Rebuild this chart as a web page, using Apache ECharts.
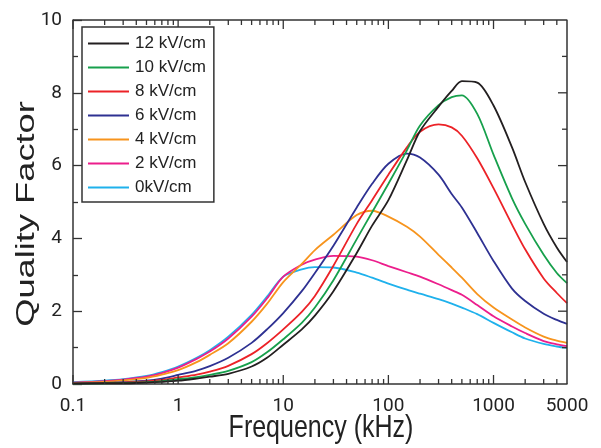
<!DOCTYPE html>
<html>
<head>
<meta charset="utf-8">
<script src="https://cdn.jsdelivr.net/npm/echarts@6/dist/echarts.min.js"></script>
<style>
  html, body { margin: 0; padding: 0; background: #fff; }
  #chart { width: 601px; height: 448px; }
</style>
</head>
<body>
<div id="chart"></div>
<script>
// frequency samples (kHz)
var freqKHz = [0.1, 0.2, 0.3, 0.5, 0.7, 1, 1.5, 2, 3, 5, 7, 10, 15, 20, 30, 50, 70, 100, 150, 200, 300, 400, 500, 700, 1000, 1500, 2000, 3000, 4000, 5000];

// quality factor per field strength
var q12 = [0.01, 0.02, 0.02, 0.04, 0.06, 0.09, 0.15, 0.2, 0.28, 0.48, 0.72, 1.08, 1.5, 1.88, 2.55, 3.6, 4.35, 5.05, 6.15, 6.95, 7.62, 8.05, 8.32, 8.28, 7.65, 6.5, 5.55, 4.4, 3.75, 3.35];
var q10 = [0.01, 0.02, 0.03, 0.05, 0.08, 0.13, 0.19, 0.25, 0.36, 0.6, 0.87, 1.23, 1.68, 2.1, 2.85, 3.98, 4.72, 5.5, 6.42, 7.1, 7.66, 7.88, 7.93, 7.42, 6.3, 5.1, 4.4, 3.55, 3.05, 2.77];
var q8  = [0.02, 0.03, 0.04, 0.07, 0.11, 0.18, 0.26, 0.34, 0.5, 0.82, 1.12, 1.5, 1.98, 2.42, 3.25, 4.4, 5.05, 5.75, 6.5, 6.93, 7.13, 7.05, 6.82, 6.2, 5.38, 4.38, 3.7, 2.9, 2.5, 2.22];
var q6  = [0.02, 0.03, 0.05, 0.09, 0.15, 0.25, 0.37, 0.49, 0.72, 1.13, 1.5, 1.95, 2.55, 3.05, 3.8, 4.85, 5.5, 6.05, 6.33, 6.22, 5.75, 5.22, 4.85, 4.15, 3.38, 2.62, 2.28, 1.93, 1.76, 1.65];
var q4  = [0.03, 0.06, 0.1, 0.17, 0.26, 0.38, 0.6, 0.8, 1.12, 1.71, 2.2, 2.8, 3.3, 3.68, 4.1, 4.64, 4.76, 4.6, 4.32, 4.05, 3.55, 3.2, 2.92, 2.47, 2.1, 1.77, 1.55, 1.3, 1.19, 1.13];
var q2  = [0.04, 0.08, 0.12, 0.2, 0.3, 0.45, 0.69, 0.89, 1.25, 1.85, 2.35, 2.95, 3.28, 3.42, 3.52, 3.5, 3.4, 3.24, 3.07, 2.95, 2.74, 2.58, 2.45, 2.17, 1.86, 1.58, 1.4, 1.18, 1.09, 1.04];
var q0  = [0.05, 0.09, 0.13, 0.22, 0.33, 0.48, 0.72, 0.93, 1.3, 1.9, 2.4, 2.95, 3.15, 3.21, 3.2, 3.06, 2.92, 2.76, 2.59, 2.48, 2.33, 2.21, 2.1, 1.92, 1.68, 1.42, 1.25, 1.1, 1.03, 0.99];

var seriesNames = ['12 kV/cm', '10 kV/cm', '8 kV/cm', '6 kV/cm', '4 kV/cm', '2 kV/cm', '0kV/cm'];
var seriesColors = ['#231f20', '#17a04c', '#ec2227', '#2e3192', '#f7941d', '#ec1e8c', '#1fb1ec'];
var seriesValues = [q12, q10, q8, q6, q4, q2, q0];

// frequency axis ticks (log spaced) and quality-factor ticks for the right edge
var majorTicks = [0.1, 1, 10, 100, 1000];
var minorTicks = [0.2, 0.3, 0.4, 0.5, 0.6, 0.7, 0.8, 0.9, 2, 3, 4, 5, 6, 7, 8, 9,
  20, 30, 40, 50, 60, 70, 80, 90, 200, 300, 400, 500, 600, 700, 800, 900, 2000, 3000, 4000];
var qMajorTicks = [2, 4, 6, 8];
var qMinorTicks = [1, 3, 5, 7, 9];

var FONT = '"Liberation Sans", Arial, sans-serif';
var TICK_FONT = 'Roboto, "Liberation Sans", sans-serif';
var AXIS_COLOR = '#333';
var X_MIN = 0.1, X_MAX = 5000, Q_MIN = 0, Q_MAX = 10;

// plot box size in px, used to turn tick lengths (px) into axis units
var GRID = { left: 73, right: 34, top: 20, bottom: 64 };
var plotW = 601 - GRID.left - GRID.right;
var plotH = 448 - GRID.top - GRID.bottom;
var pxPerQ = plotH / (Q_MAX - Q_MIN);
var pxPerDecade = plotW / (Math.log10(X_MAX) - Math.log10(X_MIN));

var chart = echarts.init(document.getElementById('chart'));

var series = seriesValues.map(function (vals, i) {
  return {
    name: seriesNames[i],
    type: 'line',
    smooth: 0.3,
    symbol: 'none',
    z: 2,
    lineStyle: { width: 1.8, color: seriesColors[i] },
    itemStyle: { color: seriesColors[i] },
    data: freqKHz.map(function (f, j) { return [f, vals[j]]; })
  };
}).reverse();

// frame and tick segments as plain line series on the same axes
function segment(points, width) {
  return {
    type: 'line',
    silent: true,
    clip: false,
    symbol: 'none',
    z: 3,
    emphasis: { disabled: true },
    lineStyle: { width: width, color: AXIS_COLOR },
    data: points
  };
}
function addXTicks(values, lenPx) {
  var dq = lenPx / pxPerQ;
  values.forEach(function (v) {
    series.push(segment([[v, Q_MIN], [v, Q_MIN + dq]], 1.3));
    series.push(segment([[v, Q_MAX], [v, Q_MAX - dq]], 1.3));
  });
}
function addRightTicks(values, lenPx) {
  var xIn = X_MAX / Math.pow(10, lenPx / pxPerDecade);
  values.forEach(function (q) {
    series.push(segment([[X_MAX, q], [xIn, q]], 1.3));
  });
}
addXTicks(minorTicks, 5);
addXTicks(majorTicks, 9);
addRightTicks(qMinorTicks, 5);
addRightTicks(qMajorTicks, 9);
series.push(segment([[X_MIN, Q_MAX], [X_MAX, Q_MAX], [X_MAX, Q_MIN]], 1.5));

chart.setOption({
  animation: false,
  grid: GRID,
  legend: {
    orient: 'vertical',
    left: 82,
    top: 27,
    data: seriesNames,
    icon: 'rect',
    itemWidth: 41,
    itemHeight: 2,
    itemGap: 7,
    padding: [8, 8, 6, 6],
    borderColor: '#333',
    borderWidth: 1.5,
    backgroundColor: '#fff',
    z: 10,
    textStyle: { fontFamily: FONT, fontSize: 17, color: '#222', padding: [0, 0, 0, 1] }
  },
  xAxis: {
    type: 'log',
    logBase: 10,
    min: X_MIN,
    max: X_MAX,
    axisLine: { onZero: false, lineStyle: { color: AXIS_COLOR, width: 1.5 } },
    axisTick: { show: false },
    axisLabel: {
      fontFamily: TICK_FONT, fontSize: 19, color: '#222', margin: 13, showMaxLabel: true,
      formatter: function (v) { return String(Math.round(v * 10) / 10); }
    },
    splitLine: { show: false }
  },
  yAxis: {
    type: 'value',
    min: Q_MIN,
    max: Q_MAX,
    interval: 2,
    axisLine: { show: true, lineStyle: { color: AXIS_COLOR, width: 1.5 } },
    axisTick: { show: true, inside: true, length: 9, lineStyle: { color: AXIS_COLOR, width: 1.3 } },
    minorTick: { show: true, splitNumber: 2, length: 5, lineStyle: { color: AXIS_COLOR, width: 1.3 } },
    axisLabel: { fontFamily: TICK_FONT, fontSize: 19, color: '#222', margin: 11 },
    splitLine: { show: false }
  },
  graphic: [
    {
      type: 'text', x: 321, y: 428, scaleY: 1.25,
      style: { text: 'Frequency (kHz)', font: '25px ' + FONT, fill: '#222', align: 'center', verticalAlign: 'middle' }
    },
    {
      type: 'text', x: 27, y: 214, rotation: Math.PI / 2, scaleX: 1.45, scaleY: 1.05,
      style: { text: 'Quality Factor', font: '25px ' + FONT, fill: '#222', align: 'center', verticalAlign: 'middle' }
    }
  ],
  series: series
});
</script>
</body>
</html>
